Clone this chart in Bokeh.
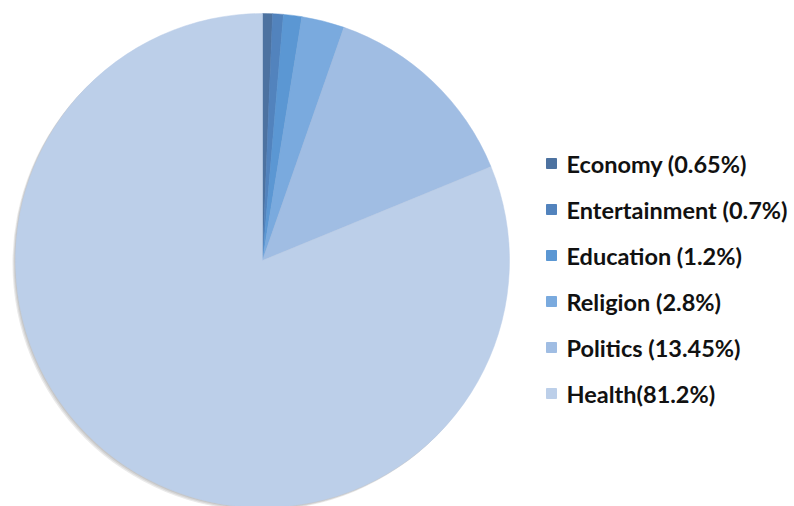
import numpy as np
from bokeh.plotting import figure
from bokeh.models import Range1d, ColumnDataSource
from bokeh.core.properties import value
from bokeh.embed import file_html
from bokeh.resources import INLINE

categories = ["Economy", "Entertainment", "Education", "Religion", "Politics", "Health"]
shares = [0.65, 0.7, 1.2, 2.8, 13.45, 81.2]
labels = ["Economy (0.65%)", "Entertainment (0.7%)", "Education (1.2%)",
          "Religion (2.8%)", "Politics (13.45%)", "Health(81.2%)"]
colors = ["#4d72a0", "#5283bd", "#5b97d3", "#7aaade", "#a0bde3", "#bccfe9"]

W, H = 794, 506
p = figure(width=W, height=H, output_backend="svg", toolbar_location=None,
           x_range=Range1d(0, W), y_range=Range1d(0, H), min_border=0)
p.axis.visible = False
p.grid.visible = False
p.outline_line_color = None
p.background_fill_color = "white"
p.border_fill_color = "white"

cx, cy, r = 262, H - 260, 247

frac = np.array(shares) / sum(shares)
cum = np.concatenate([[0], np.cumsum(frac)])
start = np.pi / 2 - cum[:-1] * 2 * np.pi
end = np.pi / 2 - cum[1:] * 2 * np.pi

src = ColumnDataSource(dict(start=start, end=end, color=colors, cat=categories))

# soft shadow
for i, a in enumerate([0.12, 0.12, 0.12]):
    p.circle(x=cx - 1 - i, y=cy - 1 - i, radius=r, fill_color="#555555",
             fill_alpha=a, line_color=None)

p.wedge(x=cx, y=cy, radius=r, start_angle="start", end_angle="end",
        direction="clock", fill_color="color", line_color="color",
        line_width=0.5, source=src)

ys = H - (163 + 46 * np.arange(len(labels)))
lsrc = ColumnDataSource(dict(x=[551] * len(labels), y=ys, color=colors,
                             tx=[566] * len(labels), label=labels))
p.rect(x="x", y="y", width=10, height=10, fill_color="color",
       line_color="color", source=lsrc)
p.text(x="tx", y="y", text="label", text_font=value("Lato"),
       text_font_style="bold", text_font_size="23.5px", text_color="#111111",
       text_baseline="middle", source=lsrc)

open("out.html", "w").write(file_html(p, INLINE))
